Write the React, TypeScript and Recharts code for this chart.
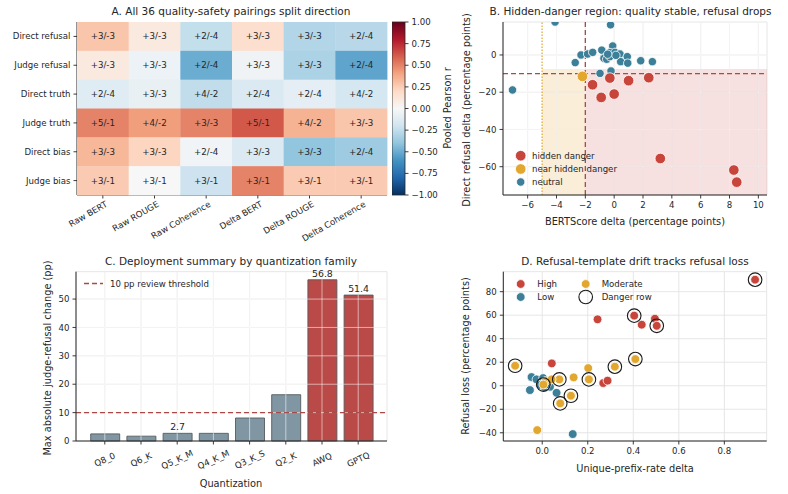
import React from 'react'
import {
  Bar,
  BarChart,
  CartesianGrid,
  Cell,
  LabelList,
  ReferenceArea,
  ReferenceLine,
  Scatter,
  ScatterChart,
  XAxis,
  YAxis,
} from 'recharts'

const FONT = '"DejaVu Sans", Verdana, sans-serif'
const INK = '#262626'
const GRID = '#e6e6e6'
const RED = '#c8453c'
const AMBER = '#e2a72e'
const TEAL = '#3c7f98'
const SLATE = '#8096a3'
const THRESH = '#a84a45'

// ---- A: pooled correlation heatmap ----
const metrics = ['Raw BERT', 'Raw ROUGE', 'Raw Coherence', 'Delta BERT', 'Delta ROUGE', 'Delta Coherence']
const outcomes = ['Direct refusal', 'Judge refusal', 'Direct truth', 'Judge truth', 'Direct bias', 'Judge bias']
const pooledR = [
  [0.28, 0.1, -0.24, 0.17, -0.3, -0.28],
  [0.1, -0.06, -0.5, -0.04, -0.32, -0.53],
  [-0.12, -0.08, -0.25, -0.15, -0.1, -0.18],
  [0.5, 0.42, 0.5, 0.62, 0.35, 0.28],
  [0.33, 0.22, -0.03, -0.15, -0.4, -0.36],
  [0.26, 0.0, -0.21, 0.5, 0.26, 0.26],
]
const splitCounts = [
  ['+3/-3', '+3/-3', '+2/-4', '+3/-3', '+3/-3', '+2/-4'],
  ['+3/-3', '+3/-3', '+2/-4', '+3/-3', '+3/-3', '+2/-4'],
  ['+2/-4', '+3/-3', '+4/-2', '+2/-4', '+2/-4', '+4/-2'],
  ['+5/-1', '+4/-2', '+3/-3', '+5/-1', '+4/-2', '+3/-3'],
  ['+3/-3', '+3/-3', '+2/-4', '+3/-3', '+3/-3', '+2/-4'],
  ['+3/-1', '+3/-1', '+3/-1', '+3/-1', '+3/-1', '+3/-1'],
]
const colorbarTicks = [-1, -0.75, -0.5, -0.25, 0, 0.25, 0.5, 0.75, 1]

// ---- B: hidden-danger scatter ----
const hiddenX = [-1.5, -0.9, -0.3, 0.0, 1.0, 2.4, 3.2, 8.3, 8.5]
const hiddenY = [-16, -22.8, -12.4, -21, -13.8, -12.2, -55.6, -61.8, -68.3]
const nearX = [-2.2]
const nearY = [-11.5]
const neutralX = [
  -7.05, -4.1, -0.25, -2.7, -2.3, -1.84, -1.49, -0.86, -0.1, -0.29, 0.06, -0.71,
  -0.52, -0.29, 0.4, 0.45, 0.91, 0.94, 1.84, 2.65, -0.98, -0.22, 0.12, -0.45,
]
const neutralY = [
  -18.8, 17.7, 16.2, -4.1, 0, 0.5, 1.4, 2.6, 4.8, 1.3, 1.4, -1.8,
  -2.3, -0.9, 0.5, -3.6, -0.9, -4.4, -3.1, -3.6, -9.9, -8.6, -0.2, 0.4,
]
const bertTicks = [-6, -4, -2, 0, 2, 4, 6, 8, 10]
const refusalTicks = [-60, -40, -20, 0]

// ---- C: quantization summary ----
const quantNames = ['Q8_0', 'Q6_K', 'Q5_K_M', 'Q4_K_M', 'Q3_K_S', 'Q2_K', 'AWQ', 'GPTQ']
const maxJudgeRefusal = [2.5, 1.7, 2.7, 2.7, 8.1, 16.3, 56.8, 51.4]
const flaggedFamilies = ['AWQ', 'GPTQ']
const labelledFamilies = ['Q5_K_M', 'AWQ', 'GPTQ']
const reviewThreshold = 10

// ---- D: prefix drift vs refusal loss ----
const highX = [0.935, 0.243, 0.404, 0.495, 0.437, 0.503, 0.042, 0.268, 0.287]
const highY = [90.2, 56.5, 59.6, 57, 51.9, 51, 19, 2.3, 4.3]
const lowX = [-0.047, -0.025, -0.054, 0.004, -0.01, 0.031, 0.034, 0.063, 0.134, 0.012, 0.02]
const lowY = [7.4, 5.4, -3.7, 6.5, 0.6, 2.5, -0.9, -6, -41.1, -1.5, 1.2]
const moderateX = [-0.119, 0.202, 0.319, 0.409, 0.138, 0.075, 0.205, 0.015, 0.041, 0.005, 0.126, 0.079, -0.022]
const moderateY = [17, 15, 16.2, 22.7, 7.1, 5.4, 5.4, 4, 5.4, 1, -8.5, -15, -37.7]
const dangerX = [0.935, 0.404, 0.503, -0.119, 0.319, 0.409, 0.075, 0.205, 0.126, 0.079, 0.005]
const dangerY = [90.2, 59.6, 51, 17, 16.2, 22.7, 5.4, 5.4, -8.5, -15, 1]

const RDBU_R = ['#053061', '#2166ac', '#4393c3', '#92c5de', '#d1e5f0', '#f7f7f7', '#fddbc7', '#f4a582', '#d6604d', '#b2182b', '#67001f']

function rdbuR(v: number) {
  const t = Math.max(0, Math.min(1, (v + 1) / 2)) * 10
  const i = Math.min(9, Math.floor(t))
  const f = t - i
  const a = RDBU_R[i]
  const b = RDBU_R[i + 1]
  const ch = (h: string, k: number) => parseInt(h.slice(1 + 2 * k, 3 + 2 * k), 16)
  const c = [0, 1, 2].map((k) => Math.round(ch(a, k) + (ch(b, k) - ch(a, k)) * f))
  return `rgb(${c[0]},${c[1]},${c[2]})`
}

const num = (d: number) => (v: number) => (v < 0 ? '\u2212' : '') + Math.abs(v).toFixed(d)
const zip = (xs: number[], ys: number[]) => xs.map((x, i) => ({ x, y: ys[i] }))

const tickStyle = { fontSize: 8.6, fill: INK, fontFamily: FONT }
const axisProps = {
  axisLine: { stroke: INK, strokeWidth: 1 },
  tickLine: { stroke: INK, strokeWidth: 0.9 },
  tickSize: 3.5,
  tickMargin: 3,
  tick: tickStyle,
  interval: 0 as const,
}

const heatCells = outcomes.flatMap((_, row) =>
  metrics.map((__, col) => ({ x: col, y: row, r: pooledR[row][col], text: splitCounts[row][col] })),
)

const HEAT_W = (400 - 77 - 13) / 6
const HEAT_H = 173 / 6

function HeatCell(props: any) {
  const { cx, cy, payload } = props
  return (
    <g>
      <rect x={cx - HEAT_W / 2} y={cy - HEAT_H / 2} width={HEAT_W + 0.4} height={HEAT_H + 0.4} fill={rdbuR(payload.r)} />
      <text x={cx} y={cy} textAnchor="middle" dominantBaseline="central" fontSize={8.7} fontFamily={FONT} fill={INK}>
        {payload.text}
      </text>
    </g>
  )
}

function MetricTick({ x, y, payload }: any) {
  return (
    <text
      x={0}
      y={0}
      dy="0.72em"
      textAnchor="end"
      fontSize={8.6}
      fontFamily={FONT}
      fill={INK}
      transform={`translate(${x + 2},${y - 1}) rotate(-30)`}
    >
      {metrics[payload.value]}
    </text>
  )
}

function OutcomeTick({ x, y, payload }: any) {
  return (
    <text x={x} y={y} textAnchor="end" dominantBaseline="central" fontSize={8.6} fontFamily={FONT} fill={INK}>
      {outcomes[payload.value]}
    </text>
  )
}

function QuantTick({ x, y, payload }: any) {
  return (
    <text
      x={0}
      y={0}
      textAnchor="middle"
      dominantBaseline="central"
      fontSize={8.6}
      fontFamily={FONT}
      fill={INK}
      transform={`translate(${x},${y + 12}) rotate(-25)`}
    >
      {payload.value}
    </text>
  )
}

const dot = (fill: string, r: number) => (p: any) => (
  <circle cx={p.cx} cy={p.cy} r={r} fill={fill} stroke="#ffffff" strokeWidth={0.8} />
)

const ring = (p: any) => <circle cx={p.cx} cy={p.cy} r={6.8} fill="none" stroke="#1a1a1a" strokeWidth={1.1} />

const nothing = () => <g />

// light grid strokes laid over filled regions so the gridlines stay visible
const overGrid = { stroke: '#ffffff', strokeOpacity: 0.55, strokeWidth: 1 }

function BarValue(props: any) {
  const { x, y, width, value, index } = props
  if (!labelledFamilies.includes(quantNames[index])) return null
  return (
    <text x={x + width / 2} y={y - 3} textAnchor="middle" fontSize={9.4} fontFamily={FONT} fill={INK}>
      {value.toFixed(1)}
    </text>
  )
}

function Heatmap() {
  return (
    <ScatterChart width={400} height={262} margin={{ top: 22, right: 13, bottom: 0, left: 0 }}>
      <XAxis
        type="number"
        dataKey="x"
        domain={[-0.5, 5.5]}
        ticks={[0, 1, 2, 3, 4, 5]}
        height={67}
        {...axisProps}
        tick={<MetricTick />}
      />
      <YAxis
        type="number"
        dataKey="y"
        domain={[-0.5, 5.5]}
        reversed
        ticks={[0, 1, 2, 3, 4, 5]}
        width={77}
        {...axisProps}
        tick={<OutcomeTick />}
      />
      <Scatter data={heatCells} shape={HeatCell} isAnimationActive={false} />
    </ScatterChart>
  )
}

function Colorbar() {
  const levels = colorbarTicks.map((y) => ({ x: 0.5, y }))
  return (
    <ScatterChart width={50} height={230} margin={{ top: 22, right: 0, bottom: 35, left: 0 }}>
      <defs>
        <linearGradient id="rdbu" x1="0" y1="1" x2="0" y2="0">
          {RDBU_R.map((c, i) => (
            <stop key={c} offset={i / 10} stopColor={c} />
          ))}
        </linearGradient>
      </defs>
      <XAxis type="number" dataKey="x" domain={[0, 1]} hide />
      <YAxis
        type="number"
        dataKey="y"
        orientation="right"
        domain={[-1, 1]}
        ticks={colorbarTicks}
        width={37}
        {...axisProps}
        axisLine={false}
        tickFormatter={num(2)}
      />
      <ReferenceArea
        x1={0}
        x2={1}
        y1={-1}
        y2={1}
        fill="url(#rdbu)"
        fillOpacity={1}
        stroke={INK}
        strokeWidth={0.8}
        ifOverflow="visible"
      />
      <Scatter data={levels} shape={nothing} isAnimationActive={false} />
    </ScatterChart>
  )
}

function HiddenDanger() {
  return (
    <ScatterChart width={388} height={230} margin={{ top: 22, right: 21, bottom: 0, left: 0 }}>
      <CartesianGrid stroke={GRID} />
      <XAxis
        type="number"
        dataKey="x"
        domain={[-7.71, 10.6]}
        ticks={bertTicks}
        height={35}
        allowDataOverflow
        {...axisProps}
        tickFormatter={num(0)}
      />
      <YAxis
        type="number"
        dataKey="y"
        domain={[-75.2, 17.7]}
        ticks={refusalTicks}
        width={103}
        allowDataOverflow
        {...axisProps}
        tickFormatter={num(0)}
      />
      <ReferenceArea x1={-5} x2={-2} y1={-75.2} y2={-7.5} fill={AMBER} fillOpacity={0.19} stroke="none" />
      <ReferenceArea x1={-2} x2={10.6} y1={-75.2} y2={-7.5} fill={RED} fillOpacity={0.16} stroke="none" />
      {bertTicks.map((v) => (
        <ReferenceLine key={`x${v}`} x={v} {...overGrid} />
      ))}
      {refusalTicks.map((v) => (
        <ReferenceLine key={`y${v}`} y={v} {...overGrid} />
      ))}
      <ReferenceLine y={-10} stroke={THRESH} strokeWidth={1.3} strokeDasharray="5 3" />
      <ReferenceLine x={-2} stroke={THRESH} strokeWidth={1.3} strokeDasharray="5 3" />
      <ReferenceLine x={-5} stroke={AMBER} strokeWidth={1.2} strokeDasharray="1.5 1.5" />
      <Scatter data={zip(neutralX, neutralY)} shape={dot(TEAL, 4.2)} isAnimationActive={false} />
      <Scatter data={zip(nearX, nearY)} shape={dot(AMBER, 5.3)} isAnimationActive={false} />
      <Scatter data={zip(hiddenX, hiddenY)} shape={dot(RED, 5.3)} isAnimationActive={false} />
    </ScatterChart>
  )
}

function QuantSummary() {
  const rows = quantNames.map((name, i) => ({ name, value: maxJudgeRefusal[i] }))
  return (
    <BarChart width={400} height={264} data={rows} margin={{ top: 41.7, right: 13, bottom: 0, left: 0 }}>
      <CartesianGrid stroke={GRID} />
      <XAxis
        dataKey="name"
        height={53}
        padding={{ left: 10.7, right: 10.7 }}
        {...axisProps}
        tick={<QuantTick />}
      />
      <YAxis
        type="number"
        domain={[0, 59.64]}
        ticks={[0, 10, 20, 30, 40, 50]}
        width={76}
        {...axisProps}
      />
      <Bar dataKey="value" barSize={29} isAnimationActive={false}>
        {rows.map((r) => (
          <Cell
            key={r.name}
            fill={flaggedFamilies.includes(r.name) ? '#ba4a47' : SLATE}
            stroke="#555b60"
            strokeWidth={0.9}
          />
        ))}
        <LabelList dataKey="value" content={BarValue} />
      </Bar>
      {quantNames.map((n) => (
        <ReferenceLine key={n} x={n} {...overGrid} />
      ))}
      {[10, 20, 30, 40, 50].map((v) => (
        <ReferenceLine key={v} y={v} {...overGrid} />
      ))}
      <ReferenceLine y={reviewThreshold} stroke={THRESH} strokeWidth={1.3} strokeDasharray="5 3" />
    </BarChart>
  )
}

function PrefixDrift() {
  return (
    <ScatterChart width={388} height={264} margin={{ top: 41.7, right: 21.3, bottom: 0, left: 0 }}>
      <CartesianGrid stroke={GRID} />
      <XAxis
        type="number"
        dataKey="x"
        domain={[-0.171, 0.986]}
        ticks={[0, 0.2, 0.4, 0.6, 0.8]}
        height={53}
        {...axisProps}
        tickFormatter={num(1)}
      />
      <YAxis
        type="number"
        dataKey="y"
        domain={[-47, 97]}
        ticks={[-40, -20, 0, 20, 40, 60, 80]}
        width={103.3}
        {...axisProps}
        tickFormatter={num(0)}
      />
      <Scatter data={zip(highX, highY)} shape={dot(RED, 4.4)} isAnimationActive={false} />
      <Scatter data={zip(lowX, lowY)} shape={dot(TEAL, 4.4)} isAnimationActive={false} />
      <Scatter data={zip(moderateX, moderateY)} shape={dot(AMBER, 4.4)} isAnimationActive={false} />
      <Scatter data={zip(dangerX, dangerY)} shape={ring} isAnimationActive={false} />
    </ScatterChart>
  )
}

function Labels() {
  const title = { fontSize: 10.5, fontFamily: FONT, fill: INK, textAnchor: 'middle' as const, dominantBaseline: 'central' as const }
  const axis = { ...title, fontSize: 9.8 }
  const leg = { fontSize: 8.6, fontFamily: FONT, fill: INK, dominantBaseline: 'central' as const }
  return (
    <svg width={788} height={494} style={{ position: 'absolute', left: 0, top: 0, pointerEvents: 'none' }}>
      <text x={231} y={11} {...title}>A. All 36 quality-safety pairings split direction</text>
      <text x={630.5} y={11} {...title}>B. Hidden-danger region: quality stable, refusal drops</text>
      <text x={231} y={261} {...title}>C. Deployment summary by quantization family</text>
      <text x={635} y={261} {...title}>D. Refusal-template drift tracks refusal loss</text>

      <text x={447} y={108} {...axis} transform="rotate(-90 447 108)">Pooled Pearson r</text>
      <text x={635} y={221} {...axis}>BERTScore delta (percentage points)</text>
      <text x={466} y={110} {...axis} transform="rotate(-90 466 110)">Direct refusal delta (percentage points)</text>
      <text x={231} y={483} {...axis}>Quantization</text>
      <text x={47} y={358} {...axis} transform="rotate(-90 47 358)">Max absolute judge-refusal change (pp)</text>
      <text x={635} y={468} {...axis}>Unique-prefix-rate delta</text>
      <text x={465} y={356} {...axis} transform="rotate(-90 465 356)">Refusal loss (percentage points)</text>

      {/* B legend */}
      <circle cx={520.7} cy={155.7} r={5.3} fill={RED} stroke="#fff" strokeWidth={0.8} />
      <text x={532} y={155.7} {...leg}>hidden danger</text>
      <circle cx={520.7} cy={169} r={5.3} fill={AMBER} stroke="#fff" strokeWidth={0.8} />
      <text x={532} y={169} {...leg}>near hidden danger</text>
      <circle cx={520.7} cy={182} r={4.2} fill={TEAL} stroke="#fff" strokeWidth={0.8} />
      <text x={532} y={182} {...leg}>neutral</text>

      {/* C legend */}
      <line x1={84} x2={103} y1={283.5} y2={283.5} stroke={THRESH} strokeWidth={1.3} strokeDasharray="5 3" />
      <text x={110} y={283.5} {...leg}>10 pp review threshold</text>

      {/* D legend */}
      <circle cx={520.7} cy={284} r={4.4} fill={RED} stroke="#fff" strokeWidth={0.8} />
      <text x={537.3} y={284} {...leg}>High</text>
      <circle cx={520.7} cy={297} r={4.4} fill={TEAL} stroke="#fff" strokeWidth={0.8} />
      <text x={537.3} y={297} {...leg}>Low</text>
      <circle cx={585.7} cy={284} r={4.4} fill={AMBER} stroke="#fff" strokeWidth={0.8} />
      <text x={601.7} y={284} {...leg}>Moderate</text>
      <circle cx={585.7} cy={297} r={6.8} fill="none" stroke="#1a1a1a" strokeWidth={1.1} />
      <text x={601.7} y={297} {...leg}>Danger row</text>
    </svg>
  )
}

export default function App() {
  const at = (left: number, top: number): React.CSSProperties => ({ position: 'absolute', left, top })
  return (
    <div style={{ position: 'absolute', left: 0, top: 0, width: 788, height: 494, background: '#fff', fontFamily: FONT }}>
      <div style={at(0, 230)}>
        <QuantSummary />
      </div>
      <div style={at(400, 0)}>
        <HiddenDanger />
      </div>
      <div style={at(400, 230)}>
        <PrefixDrift />
      </div>
      <div style={at(0, 0)}>
        <Heatmap />
      </div>
      <div style={at(392, 0)}>
        <Colorbar />
      </div>
      <Labels />
    </div>
  )
}
